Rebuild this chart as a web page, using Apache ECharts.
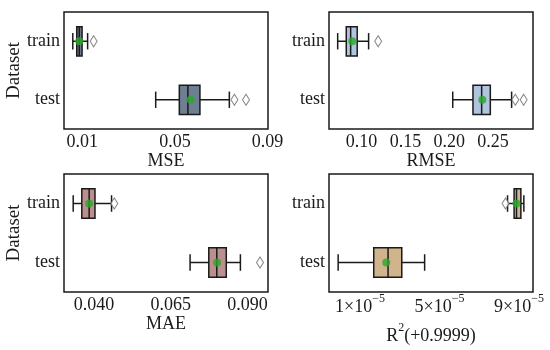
<!DOCTYPE html>
<html>
<head>
<meta charset="utf-8">
<script src="https://cdn.jsdelivr.net/npm/echarts@6/dist/echarts.min.js"></script>
<style>html,body{margin:0;padding:0;background:#fff}#c{width:550px;height:350px}</style>
</head>
<body>
<div id="c"></div>
<script>
// ---- data ----
const categories = ['train', 'test'];

// [lowWhisker, Q1, median, Q3, highWhisker] for train, test
const mseStats = [[0.0059, 0.0076, 0.0087, 0.0099, 0.0123], [0.0417, 0.0519, 0.0556, 0.0608, 0.0735]];
const mseMeans = [0.0087, 0.0568];
const mseOutliers = [[0.0149, 0], [0.0757, 1], [0.0807, 1]];
const mseTicks = [0.01, 0.05, 0.09];

const rmseStats = [[0.0727, 0.0825, 0.0875, 0.0950, 0.1080], [0.2040, 0.2271, 0.2370, 0.2469, 0.2712]];
const rmseMeans = [0.0893, 0.2378];
const rmseOutliers = [[0.1189, 0], [0.2754, 1], [0.2849, 1]];
const rmseTicks = [0.10, 0.15, 0.20, 0.25];

const maeStats = [[0.0332, 0.0360, 0.0384, 0.0403, 0.0457], [0.0713, 0.0774, 0.0800, 0.0831, 0.0877]];
const maeMeans = [0.0384, 0.0801];
const maeOutliers = [[0.0466, 0], [0.0941, 1]];
const maeTicks = [0.040, 0.065, 0.090];

// R2 values in units of 1e-5 above 0.9999
const r2Stats = [[8.42, 8.75, 8.87, 9.09, 9.24], [-0.10, 1.69, 2.41, 3.10, 4.25]];
const r2Means = [8.87, 2.32];
const r2Outliers = [[8.32, 0]];
const r2Ticks = [1, 5, 9];

// ---- chart ----
const FONT = 'Liberation Serif';
const TXT = '#1a1a1a';
const chart = echarts.init(document.getElementById('c'), null, {renderer: 'canvas'});

function boxData(stats) {
  return stats.map((s, i) => [i].concat(s));
}
function renderBox(params, api) {
  const cat = api.value(0);
  const lo = api.coord([api.value(1), cat]);
  const q1 = api.coord([api.value(2), cat]);
  const md = api.coord([api.value(3), cat]);
  const q3 = api.coord([api.value(4), cat]);
  const hi = api.coord([api.value(5), cat]);
  const band = api.size([0, 1])[1];
  const hh = band * 0.25;
  const ch = band * 0.14;
  const y = lo[1];
  const ls = {stroke: '#1a1a1a', lineWidth: 1.5};
  const fill = api.visual('color');
  return {
    type: 'group',
    children: [
      {type: 'line', shape: {x1: lo[0], y1: y, x2: q1[0], y2: y}, style: ls},
      {type: 'line', shape: {x1: q3[0], y1: y, x2: hi[0], y2: y}, style: ls},
      {type: 'line', shape: {x1: lo[0], y1: y - ch, x2: lo[0], y2: y + ch}, style: ls},
      {type: 'line', shape: {x1: hi[0], y1: y - ch, x2: hi[0], y2: y + ch}, style: ls},
      {type: 'rect', shape: {x: q1[0], y: y - hh, width: q3[0] - q1[0], height: 2 * hh},
        style: {fill: fill, stroke: '#1a1a1a', lineWidth: 1.5}},
      {type: 'line', shape: {x1: md[0], y1: y - hh, x2: md[0], y2: y + hh}, style: ls}
    ]
  };
}

const panels = [
  {left: 64, top: 12, height: 117, min: 0.0021, max: 0.0902, ticks: mseTicks, fmt: v => v.toFixed(2),
   name: 'MSE', color: '#6f7f92', stats: mseStats, means: mseMeans, outliers: mseOutliers, ytitle: true},
  {left: 329, top: 12, height: 117, min: 0.0628, max: 0.2956, ticks: rmseTicks, fmt: v => v.toFixed(2),
   name: 'RMSE', color: '#b0c4de', stats: rmseStats, means: rmseMeans, outliers: rmseOutliers, ytitle: false},
  {left: 64, top: 174, height: 118, min: 0.0302, max: 0.0967, ticks: maeTicks, fmt: v => v.toFixed(3),
   name: 'MAE', color: '#bc8f8f', stats: maeStats, means: maeMeans, outliers: maeOutliers, ytitle: true},
  {left: 329, top: 174, height: 118, min: -0.56, max: 9.70, ticks: r2Ticks, fmt: v => '{m|' + Math.round(v) + '×10}{e|−5}',
   name: '{m|R}{e|2}{m|(+0.9999)}', color: '#d2b48c', stats: r2Stats, means: r2Means, outliers: r2Outliers, ytitle: false, sup: true}
];

const option = {
  animation: false,
  backgroundColor: '#fff',
  textStyle: {fontFamily: FONT},
  grid: [], xAxis: [], yAxis: [], series: []
};

const rich = {
  m: {fontFamily: FONT, fontSize: 18, color: TXT, padding: [5, 0, 0, 0], verticalAlign: 'bottom'},
  e: {fontFamily: FONT, fontSize: 12, color: TXT, verticalAlign: 'top'}
};

panels.forEach((p, i) => {
  option.grid.push({left: p.left, top: p.top, width: 204, height: p.height, show: true,
    borderColor: '#1a1a1a', borderWidth: 1.5, backgroundColor: 'transparent', containLabel: false});
  option.xAxis.push({
    type: 'value', gridIndex: i, min: p.min, max: p.max,
    name: p.name, nameLocation: 'middle', nameGap: p.sup ? 30 : 22,
    nameTextStyle: {fontFamily: FONT, fontSize: 18, color: TXT, rich: rich},
    splitLine: {show: false}, axisLine: {show: false}, axisTick: {show: false},
    axisLabel: {customValues: p.ticks, formatter: p.fmt, fontFamily: FONT, fontSize: 18, color: TXT,
      margin: p.sup ? 1 : 4, rich: rich, showMinLabel: true, showMaxLabel: true, hideOverlap: false}
  });
  option.yAxis.push({
    type: 'category', gridIndex: i, data: categories, inverse: true,
    name: p.ytitle ? 'Dataset' : '', nameLocation: 'middle', nameGap: 40,
    nameTextStyle: {fontFamily: FONT, fontSize: 19, color: TXT},
    axisLine: {show: false}, axisTick: {show: false}, splitLine: {show: false},
    axisLabel: {fontFamily: FONT, fontSize: 18, color: TXT, margin: 4}
  });
  option.series.push({
    type: 'custom', xAxisIndex: i, yAxisIndex: i, renderItem: renderBox,
    itemStyle: {color: p.color}, encode: {x: [1, 2, 3, 4, 5], y: 0},
    data: boxData(p.stats), z: 2
  });
  option.series.push({
    type: 'scatter', xAxisIndex: i, yAxisIndex: i, symbol: 'diamond', symbolSize: [7, 11],
    itemStyle: {color: '#ffffff', borderColor: '#666666', borderWidth: 1},
    data: p.outliers, z: 3
  });
  option.series.push({
    type: 'scatter', xAxisIndex: i, yAxisIndex: i, symbol: 'circle', symbolSize: 8,
    itemStyle: {color: '#2aa82a'}, data: p.means.map((m, k) => [m, k]), z: 4
  });
});

chart.setOption(option);
</script>
</body>
</html>
